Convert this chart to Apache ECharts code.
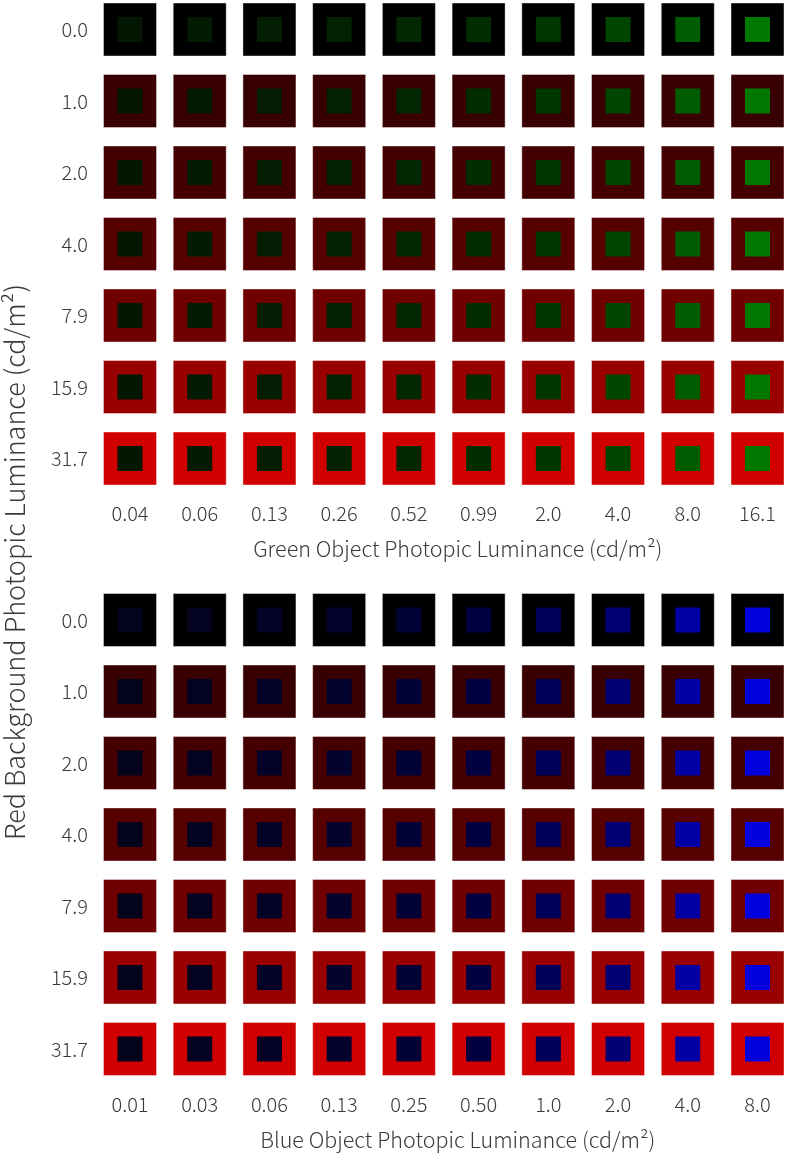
<!DOCTYPE html>
<html>
<head>
<meta charset="utf-8">
<script src="https://cdn.jsdelivr.net/npm/echarts@6/dist/echarts.min.js"></script>
<style>
html,body{margin:0;padding:0;background:#fff;}
#chart{width:788px;height:1154px;}
</style>
</head>
<body>
<div id="chart"></div>
<script>
// ---- data ----
const redBackgroundLevels = ['0.0', '1.0', '2.0', '4.0', '7.9', '15.9', '31.7'];
const greenObjectLevels = ['0.04', '0.06', '0.13', '0.26', '0.52', '0.99', '2.0', '4.0', '8.0', '16.1'];
const blueObjectLevels = ['0.01', '0.03', '0.06', '0.13', '0.25', '0.50', '1.0', '2.0', '4.0', '8.0'];

// displayed colours of each stimulus
const redBackgroundColors = ['#000000', '#380000', '#440000', '#560000', '#700000', '#990000', '#d00000'];
const greenObjectColors = ['#031703', '#031a03', '#031e03', '#022202', '#022702', '#012d01', '#003700', '#004500', '#005c00', '#007800'];
const blueObjectColors = ['#03031c', '#030321', '#030327', '#03032e', '#020236', '#010142', '#000058', '#000074', '#0000a4', '#0000dc'];

const xTitleGreen = 'Green Object Photopic Luminance (cd/m²)';
const xTitleBlue = 'Blue Object Photopic Luminance (cd/m²)';
const yTitle = 'Red Background Photopic Luminance (cd/m²)';

// ---- build ----
const FONT = '"Noto Sans CJK JP", "Noto Sans", sans-serif';
const TEXT = '#3a3a3a';

function cells(objColors) {
  const outer = [], inner = [];
  redBackgroundLevels.forEach((_, r) => {
    objColors.forEach((oc, c) => {
      outer.push({ value: [c, r], itemStyle: { color: redBackgroundColors[r] } });
      inner.push({ value: [c, r], itemStyle: { color: oc } });
    });
  });
  return { outer, inner };
}
const g = cells(greenObjectColors);
const b = cells(blueObjectColors);

function xAxis(idx, cats, name) {
  return {
    type: 'category', gridIndex: idx, data: cats, boundaryGap: false,
    axisLine: { show: false }, axisTick: { show: false }, splitLine: { show: false },
    axisLabel: { margin: 45, fontSize: 20, fontWeight: 300, color: TEXT, fontFamily: FONT },
    name: name, nameLocation: 'middle', nameGap: 80,
    nameTextStyle: { fontSize: 21.5, fontWeight: 300, color: TEXT, fontFamily: FONT, padding: [0, 0, 0, 28] }
  };
}
function yAxis(idx) {
  return {
    type: 'category', gridIndex: idx, data: redBackgroundLevels, boundaryGap: false, inverse: true,
    axisLine: { show: false }, axisTick: { show: false }, splitLine: { show: false },
    axisLabel: { margin: 42, fontSize: 20, fontWeight: 300, color: TEXT, fontFamily: FONT }
  };
}
function sq(idx, data, size, border) {
  return {
    type: 'scatter', xAxisIndex: idx, yAxisIndex: idx, symbol: 'rect', symbolSize: size,
    data: data, silent: true,
    itemStyle: border ? { borderColor: 'rgba(255,255,255,0.4)', borderWidth: 1, opacity: 1 } : { opacity: 1 },
    emphasis: { disabled: true }
  };
}

const chart = echarts.init(document.getElementById('chart'), null, { renderer: 'canvas' });
chart.setOption({
  animation: false,
  backgroundColor: '#ffffff',
  grid: [
    { left: 130, right: 30.5, top: 29.5, height: 429 },
    { left: 130, right: 30.5, top: 620, height: 429 }
  ],
  xAxis: [xAxis(0, greenObjectLevels, xTitleGreen), xAxis(1, blueObjectLevels, xTitleBlue)],
  yAxis: [yAxis(0), yAxis(1)],
  series: [
    sq(0, g.outer, 53, true), sq(0, g.inner, 25, false),
    sq(1, b.outer, 53, true), sq(1, b.inner, 25, false)
  ],
  graphic: [{
    type: 'text', x: 15, y: 562, rotation: Math.PI / 2,
    style: { text: yTitle, fill: TEXT, font: '300 27px ' + FONT, align: 'center', verticalAlign: 'middle' }
  }]
});
</script>
</body>
</html>
